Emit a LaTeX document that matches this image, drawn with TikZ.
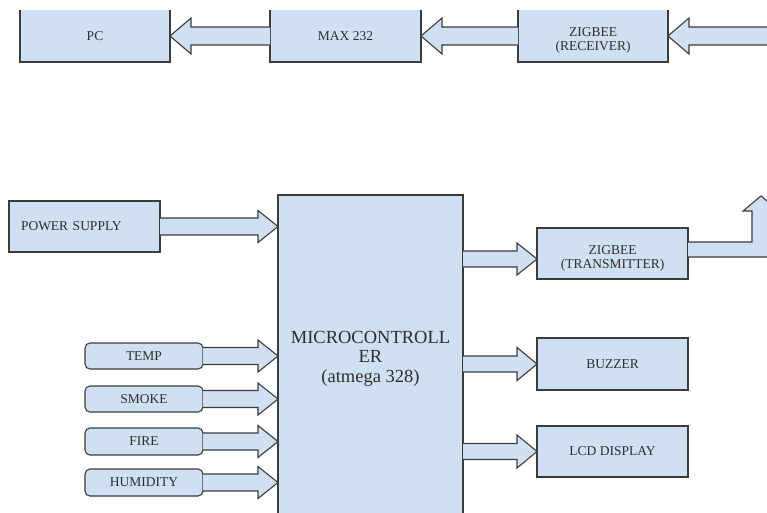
\documentclass[tikz,border=0pt]{standalone}
\usepackage{fontspec}
\setmainfont{Liberation Serif}
\usetikzlibrary{calc}
\definecolor{boxfill}{HTML}{CFE0F2}
\definecolor{boxline}{HTML}{3C3C3C}
\definecolor{txt}{HTML}{2E2E2E}
\newcommand{\lowstrut}{\rule{0pt}{18pt}}
\tikzset{
  blk/.style={draw=boxline, fill=boxfill, line width=1.1pt, anchor=north west,
    inner sep=0pt, outer sep=0pt, text=txt, font=\fontsize{13.5}{14}\selectfont, align=center},
  topblk/.style={blk, draw=none},
  sens/.style={blk, rounded corners=5pt},
  barrow/.style={draw=boxline, fill=boxfill, line width=1.1pt, line join=miter},
  edge/.style={draw=boxline, line width=1.1pt}
}
% right-pointing block arrow: start, tip, shaft half height, head half height
\newcommand{\rblock}[4]{%
  \draw[barrow] let \p1=(#1), \p2=(#2) in
    (\x1,\y2+#3) -- (\x2-20pt,\y2+#3) -- (\x2-20pt,\y2+#4) -- (\x2,\y2)
    -- (\x2-20pt,\y2-#4) -- (\x2-20pt,\y2-#3) -- (\x1,\y2-#3);}
% left-pointing block arrow
\newcommand{\lblock}[4]{%
  \draw[barrow] let \p1=(#1), \p2=(#2) in
    (\x1,\y2+#3) -- (\x2+21pt,\y2+#3) -- (\x2+21pt,\y2+#4) -- (\x2,\y2)
    -- (\x2+21pt,\y2-#4) -- (\x2+21pt,\y2-#3) -- (\x1,\y2-#3);}
\begin{document}
\begin{tikzpicture}[x=1pt,y=-1pt]
\clip (0,0) rectangle (767,512);
\fill[white] (0,0) rectangle (767,512);
% top row (top edges cut off in the reference)
\node[topblk, minimum width=150pt, minimum height=52pt] (pc) at (20,10) {PC};
\node[topblk, minimum width=151pt, minimum height=52pt] (max) at (270,10) {MAX 232};
\node[topblk, minimum width=150pt, minimum height=52pt] (rx) at (518,10) {\lowstrut ZIGBEE\\(RECEIVER)};
\foreach \b in {pc,max,rx}
  \draw[edge] (\b.north west) -- (\b.south west) -- (\b.south east) -- (\b.north east);
\coordinate (rin) at (790,36);
\lblock{max.west}{pc.east}{9pt}{18pt}
\lblock{rx.west}{max.east}{9pt}{18pt}
\lblock{rin}{rx.east}{9pt}{18pt}
% bottom
\node[blk, minimum width=151pt, minimum height=51pt, inner xsep=12pt, text width=127pt, align=left] (ps) at (9,201) {POWER SUPPLY};
\node[blk, minimum width=185pt, minimum height=330pt] (mcu) at (278,195) {};
\node[font=\fontsize{18.5}{19.5}\selectfont, text=txt, align=center, anchor=north, inner sep=0pt] (mcutxt) at (370.5,331) {MICROCONTROLL\\ER\\(atmega 328)};
\node[blk, minimum width=151pt, minimum height=51pt] (tx) at (537,228) {\lowstrut ZIGBEE\\(TRANSMITTER)};
\node[blk, minimum width=151pt, minimum height=52pt] (buz) at (537,338) {BUZZER};
\node[blk, minimum width=151pt, minimum height=51pt] (lcd) at (537,426) {LCD DISPLAY};
\node[sens, minimum width=118pt, minimum height=26pt] (temp) at (85,343) {TEMP};
\node[sens, minimum width=118pt, minimum height=26pt] (smoke) at (85,386) {SMOKE};
\node[sens, minimum width=118pt, minimum height=27pt] (fire) at (85,428) {FIRE};
\node[sens, minimum width=118pt, minimum height=27pt] (hum) at (85,469) {HUMIDITY};
% arrows into MCU
\rblock{ps.east}{mcu.west |- ps.east}{8.5pt}{16pt}
\rblock{temp.east}{mcu.west |- temp.east}{8.5pt}{16pt}
\rblock{smoke.east}{mcu.west |- smoke.east}{8.5pt}{16pt}
\rblock{fire.east}{mcu.west |- fire.east}{8.5pt}{16pt}
\rblock{hum.east}{mcu.west |- hum.east}{8.5pt}{16pt}
% arrows out of MCU
\coordinate (txin) at ($(tx.west)+(0pt,-5.5pt)$);
\rblock{mcu.east |- txin}{txin}{8pt}{16pt}
\rblock{mcu.east |- buz.west}{buz.west}{8pt}{16.5pt}
\rblock{mcu.east |- lcd.west}{lcd.west}{8pt}{16.5pt}
% up arrow from transmitter
\coordinate (up) at (761,196);
\draw[barrow] (tx.east |- 0,242) -- (752,242) -- (752,211) -- (743,211) -- (up)
  -- (779,211) -- (770,211) -- (770,257) -- (tx.east |- 0,257);
\end{tikzpicture}
\end{document}
